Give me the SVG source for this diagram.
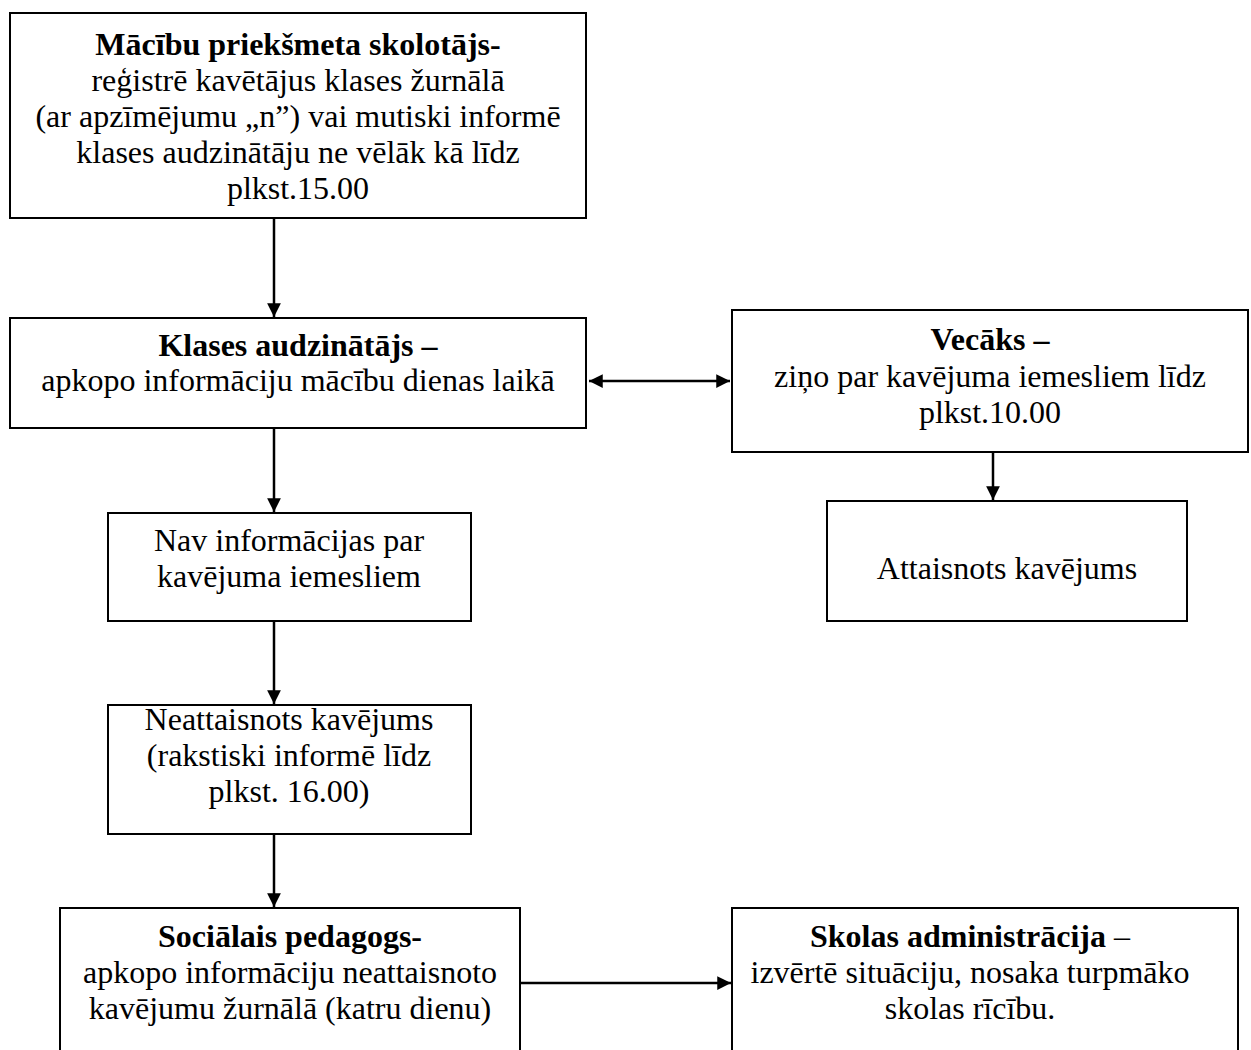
<svg xmlns="http://www.w3.org/2000/svg" width="1251" height="1050" viewBox="0 0 1251 1050">
<style>
.box{fill:#fff;stroke:#000;stroke-width:2}
text{font-family:"Liberation Serif","Times New Roman",serif;font-size:32px;fill:#000;text-anchor:middle}
.b{font-weight:bold}
.c{stroke:#000;stroke-width:2.5;fill:none}
</style>
<defs>
<marker id="ah" viewBox="0 0 10 10" refX="10" refY="5" markerWidth="5.5" markerHeight="5.5" orient="auto-start-reverse" markerUnits="strokeWidth">
<path d="M0,0 L10,5 L0,10 z" fill="#000"/>
</marker>
</defs>
<rect width="1251" height="1050" fill="#fff"/>
<g id="connectors">
<line class="c" x1="274" y1="219" x2="274" y2="317" marker-end="url(#ah)"/>
<line class="c" x1="589" y1="381" x2="730" y2="381" marker-start="url(#ah)" marker-end="url(#ah)"/>
<line class="c" x1="274" y1="429" x2="274" y2="512" marker-end="url(#ah)"/>
<line class="c" x1="274" y1="622" x2="274" y2="704" marker-end="url(#ah)"/>
<line class="c" x1="274" y1="835" x2="274" y2="907" marker-end="url(#ah)"/>
<line class="c" x1="993" y1="453" x2="993" y2="500" marker-end="url(#ah)"/>
<line class="c" x1="521" y1="983" x2="731" y2="983" marker-end="url(#ah)"/>
</g>
<g id="n1">
<rect class="box" x="10" y="13" width="576" height="205"/>
<text x="298" y="55" class="b">Mācību priekšmeta skolotājs-</text>
<text x="298" y="91">reģistrē kavētājus klases žurnālā</text>
<text x="298" y="127">(ar apzīmējumu „n”) vai mutiski informē</text>
<text x="298" y="163">klases audzinātāju ne vēlāk kā līdz</text>
<text x="298" y="199">plkst.15.00</text>
</g>
<g id="n2">
<rect class="box" x="10" y="318" width="576" height="110"/>
<text x="298" y="356" class="b">Klases audzinātājs –</text>
<text x="298" y="391">apkopo informāciju mācību dienas laikā</text>
</g>
<g id="n3">
<rect class="box" x="732" y="310" width="516" height="142"/>
<text x="990" y="350" class="b">Vecāks –</text>
<text x="990" y="387">ziņo par kavējuma iemesliem līdz</text>
<text x="990" y="423">plkst.10.00</text>
</g>
<g id="n4">
<rect class="box" x="108" y="513" width="363" height="108"/>
<text x="289" y="551">Nav informācijas par</text>
<text x="289" y="587">kavējuma iemesliem</text>
</g>
<g id="n5">
<rect class="box" x="827" y="501" width="360" height="120"/>
<text x="1007" y="579">Attaisnots kavējums</text>
</g>
<g id="n6">
<rect class="box" x="108" y="705" width="363" height="129"/>
<text x="289" y="730">Neattaisnots kavējums</text>
<text x="289" y="766">(rakstiski informē līdz</text>
<text x="289" y="802">plkst. 16.00)</text>
</g>
<g id="n7">
<rect class="box" x="60" y="908" width="460" height="160"/>
<text x="290" y="947" class="b">Sociālais pedagogs-</text>
<text x="290" y="983">apkopo informāciju neattaisnoto</text>
<text x="290" y="1019">kavējumu žurnālā (katru dienu)</text>
</g>
<g id="n8">
<rect class="box" x="732" y="908" width="506" height="160"/>
<text x="970" y="947"><tspan class="b">Skolas administrācija</tspan> –</text>
<text x="970" y="983">izvērtē situāciju, nosaka turpmāko</text>
<text x="970" y="1019">skolas rīcību.</text>
</g>
</svg>
